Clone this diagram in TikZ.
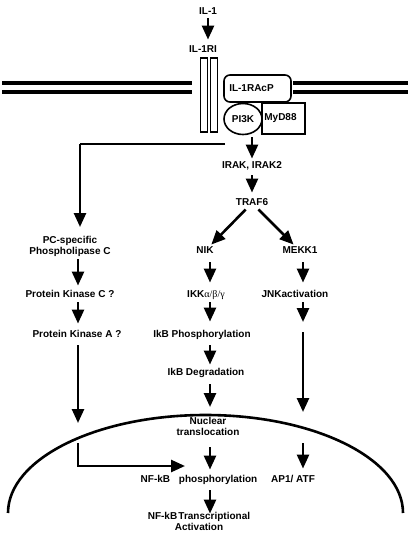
\documentclass[tikz,border=0pt]{standalone}
\usepackage{fontspec}
\setmainfont{Liberation Sans}
\newfontfamily\greekfont{Liberation Serif}
\usetikzlibrary{arrows.meta,shapes.geometric}
\begin{document}
\begin{tikzpicture}[x=1pt,y=-1pt,
 lbl/.style={font=\fontsize{10}{11}\selectfont\bfseries, inner sep=1.5pt, align=center, text height=7.5pt, text depth=2pt},
 arr/.style={line width=2.6pt, -{Triangle[length=14pt,width=12pt]}},
 conn/.style={line width=2.6pt},
 memb/.style={line width=3.3pt},
 box/.style={draw, line width=1.6pt}]
\useasboundingbox (0,0) rectangle (411,545);
% membranes
\draw[memb] (2,83) -- (192,83);
\draw[memb] (2,92) -- (192,92);
\draw[memb] (293,83) -- (408,83);
\draw[memb] (293,92) -- (408,92);
% receptor
\node[box, minimum width=7pt, minimum height=74pt, inner sep=0pt] (r1) at (204,95) {};
\node[box, minimum width=7pt, minimum height=74pt, inner sep=0pt] (r2) at (214,95) {};
\node[lbl] (il1) at (208,12) {IL-1};
\node[lbl] (il1r) at (203,50) {IL-1RI};
\node[box, lbl, rounded corners=6pt, minimum width=67pt, minimum height=27pt, text height=, text depth=] (acp) at (257.5,88.5) {IL-1RAcP\hspace*{12pt}};
\node[box, lbl, ellipse, minimum width=38pt, minimum height=31pt, inner sep=0pt, text height=, text depth=] (pi3k) at (243,119) {PI3K};
\node[box, lbl, minimum width=43pt, minimum height=31pt, text height=, text depth=] (myd) at (283.5,118.5) {MyD88\hspace*{6pt}};
% main chain
\node[lbl] (irak) at (252,166) {IRAK, IRAK2};
\node[lbl] (traf6) at (252,203) {TRAF6};
\node[lbl] (nik) at (205,251) {NIK};
\node[lbl] (mekk) at (300,251) {MEKK1};
\node[lbl] (ikk) at (206,295) {IKK{\greekfont\mdseries α/β/γ}};
\node[lbl] (jnk) at (295,295) {JNKactivation};
\node[lbl] (ikbp) at (202,335) {IkB Phosphorylation};
\node[lbl] (ikbd) at (206,373) {IkB Degradation};
\node[lbl] (nuc) at (208,433) {Nuclear\\translocation};
\node[lbl] (nfkb) at (199,480) {NF-kB\hspace{0.6em} phosphorylation};
\node[lbl] (trans) at (199,528) {NF-kB\hspace{0.12em}Transcriptional\\Activation};
\node[lbl] (ap1) at (293,480) {AP1/ ATF};
% left column
\node[lbl] (plc) at (70,252) {PC-specific\\Phospholipase C};
\node[lbl] (pkc) at (70,295) {Protein Kinase C ?};
\node[lbl] (pka) at (77,335) {Protein Kinase A ?};
% coordinates
\coordinate (cx) at (210,0);
\coordinate (lx) at (78,0);
\coordinate (rx) at (303,0);
\coordinate (b0) at (225,144);
\coordinate (b1) at (80,144);
\coordinate (b2) at (80,227);
\coordinate (m1) at (210,407);
\coordinate (l1) at (78,423);
\coordinate (l2) at (78,443);
\coordinate (l3) at (78,466);
\coordinate (l4) at (185,466);
\coordinate (j1) at (303,322);
\coordinate (j2) at (303,332);
\coordinate (j3) at (303,412);
\coordinate (j4) at (303,443);
% nucleus
\draw[line width=2.6pt] (8,513) arc[start angle=180, end angle=360, x radius=197.5, y radius=98];
% arrows
\draw[arr, shorten >=4pt] (il1.south) -- (il1.south |- il1r.north);
\draw[arr, shorten <=2pt, shorten >=1pt] (irak.north |- pi3k.south) -- (irak.north);
\draw[arr, shorten <=3pt, shorten >=4pt] (irak.south) -- (traf6.north);
\draw[arr] (traf6) -- (nik);
\draw[arr] (traf6) -- (mekk);
\draw[arr, shorten <=5pt, shorten >=6pt] (nik.south -| cx) -- (ikk.north -| cx);
\draw[arr, shorten <=1pt, shorten >=7pt] (ikk.south -| cx) -- (ikbp.north -| cx);
\draw[arr, shorten <=4pt, shorten >=2pt] (ikbp.south -| cx) -- (ikbd.north -| cx);
\draw[arr, shorten <=5pt] (ikbd.south -| cx) -- (m1);
\draw[arr, shorten <=8pt, shorten >=4pt] (nuc.south -| cx) -- (nfkb.north -| cx);
\draw[arr, shorten <=4pt, shorten >=8pt] (nfkb.south -| cx) -- (trans.north -| cx);
% left
\draw[conn] (b0) -- (b1);
\draw[arr] (b1) -- (b2);
\draw[arr, shorten <=1pt, shorten >=3pt] (plc.south -| lx) -- (pkc.north -| lx);
\draw[arr, shorten <=1pt, shorten >=5pt] (pkc.south -| lx) -- (pka.north -| lx);
\draw[arr, shorten <=4pt] (pka.south -| lx) -- (l1);
\draw[arr] (l2) -- (l3) -- (l4);
% right
\draw[arr, shorten <=5pt, shorten >=6pt] (mekk.south -| rx) -- (jnk.north -| rx);
\draw[arr, shorten <=1pt] (jnk.south -| rx) -- (j1);
\draw[arr] (j2) -- (j3);
\draw[arr, shorten >=5pt] (j4) -- (ap1.north -| rx);
\end{tikzpicture}
\end{document}
